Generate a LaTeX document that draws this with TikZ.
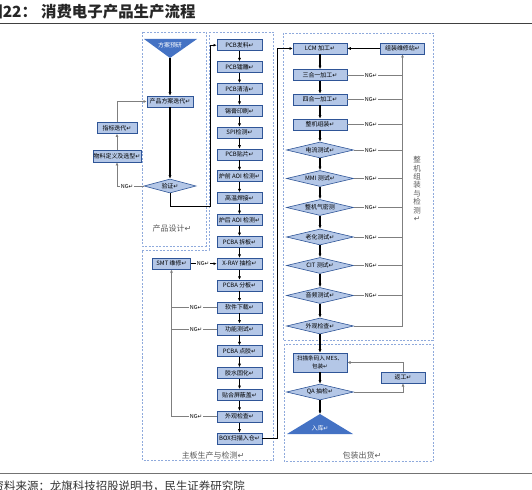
\documentclass[tikz,border=0pt]{standalone}
\usepackage{fontspec}
\setmainfont{Noto Sans CJK SC}
\newfontfamily\symfont{DejaVu Sans}
\usetikzlibrary{arrows.meta,shapes.geometric}
\definecolor{boxfill}{HTML}{B4C7E7}
\definecolor{boxline}{HTML}{2F5597}
\definecolor{trifill}{HTML}{4472C4}
\definecolor{frameblue}{HTML}{8FAADC}
\definecolor{nggray}{HTML}{7F7F7F}
\definecolor{labgray}{HTML}{595959}
\newcommand\retmark{{\symfont\char"21B5}}
\begin{document}
\begin{tikzpicture}[x=1bp,y=-1bp,
  box/.style={draw=boxline, fill=boxfill, line width=0.6bp, minimum width=45bp, minimum height=11bp, inner sep=0pt, font=\fontsize{6}{7}\selectfont},
  dbox/.style={diamond, aspect=4, draw=boxline, fill=boxfill, line width=0.6bp, minimum width=67bp, minimum height=16bp, inner sep=0pt, font=\fontsize{6}{7}\selectfont},
  ng/.style={fill=white, inner sep=0.7bp, font=\fontsize{5.5}{6}\selectfont},
  flowarr/.style={line width=1.3bp, -{Latex[length=3.5bp,width=3.2bp]}},
  thinarr/.style={line width=0.9bp, -{Latex[length=3.2bp,width=3bp]}},
  ngline/.style={draw=nggray, line width=0.9bp},
  ngarr/.style={ngline, -{Latex[length=3.2bp,width=3bp]}},
  framebox/.style={draw=frameblue, line width=0.8bp, dash pattern=on 2bp off 1.5bp},
  lab/.style={text=labgray, font=\fontsize{8}{8.4}\selectfont, inner sep=0pt}]
\path[use as bounding box, fill=white] (0,0) rectangle (532,490);

% title and source
\node[anchor=base west, font=\bfseries\fontsize{15.5}{16}\selectfont, text=black!85, inner sep=0pt] (tt) at (-12.8,18) {图22：\kern4bp 消费电子产品生产流程};
\draw[line width=1.3bp, black!75] (0,23.5) -- (532,23.5);
\draw[line width=0.9bp, black!55] (0,473.5) -- (532,473.5);
\node[anchor=base west, font=\fontsize{11.5}{12}\selectfont, text=black!80, inner sep=0pt] (src) at (-7.5,490.5) {资料来源：龙旗科技招股说明书，民生证券研究院};

% frames
\draw[framebox] (142,32) rectangle (206,246);
\draw[framebox] (209,32) -- (273,32) -- (273,460) -- (142,460) -- (142,250) -- (209,250) -- cycle;
\draw[framebox] (283,33) rectangle (433,340);
\draw[framebox] (284,344) rectangle (433,461);
\node[lab] (t1) at (172,228) {产品设计\retmark};
\node[lab] (t2) at (213,455) {主板生产与检测\retmark};
\node[lab] (t3) at (362,455) {包装出货\retmark};
\node[lab, align=center, font=\fontsize{7.5}{8.4}\selectfont] (t4) at (417,189) {整\\机\\组\\装\\与\\检\\测\\\retmark};

% product design
\fill[trifill] (144,39) -- (197,39) -- (170,58) -- cycle;
\node[text=white, font=\fontsize{6}{7}\selectfont] (fa) at (170,45) {方案预研};
\coordinate (fatip) at (170,58);
\node[box, minimum width=46bp] (fd) at (170,101.5) {产品方案迭代\retmark};
\node[dbox, minimum width=52bp, minimum height=14bp] (yz) at (170,186) {验证\retmark};
\node[box, minimum width=40bp] (zb) at (117,128) {指标迭代\retmark};
\node[box, minimum width=48bp, minimum height=12bp] (wl) at (117,156) {物料定义及选型\retmark};
\node[ng] (m4) at (127,186) {NG\retmark};
\coordinate (c1) at (210,206);

% main board
\node[box] (p0) at (239.5,45.2) {PCB发料\retmark};
\node[box] (p1) at (239.5,67.1) {PCB镭雕\retmark};
\node[box] (p2) at (239.5,88.9) {PCB清洁\retmark};
\node[box] (p3) at (239.5,110.8) {锡膏印刷\retmark};
\node[box] (p4) at (239.5,132.6) {SPI检测\retmark};
\node[box] (p5) at (239.5,154.5) {PCB贴片\retmark};
\node[box] (p6) at (239.5,176.3) {炉前 AOI 检测\retmark};
\node[box] (p7) at (239.5,198.2) {高温焊接\retmark};
\node[box] (p8) at (239.5,220.0) {炉后 AOI 检测\retmark};
\node[box] (p9) at (239.5,241.9) {PCBA 拆板\retmark};
\node[box] (p10) at (239.5,263.7) {X-RAY 抽检\retmark};
\node[box] (p11) at (239.5,285.6) {PCBA 分板\retmark};
\node[box] (p12) at (239.5,307.4) {软件下载\retmark};
\node[box] (p13) at (239.5,329.3) {功能测试\retmark};
\node[box] (p14) at (239.5,351.1) {PCBA 点胶\retmark};
\node[box] (p15) at (239.5,373.0) {胶水固化\retmark};
\node[box] (p16) at (239.5,394.8) {贴合屏蔽盖\retmark};
\node[box] (p17) at (239.5,416.7) {外观检查\retmark};
\node[box] (p18) at (239.5,438.5) {BOX扫描入仓\retmark};
\node[box, minimum width=38bp] (sm) at (171.5,263.7) {SMT 维修\retmark};
\node[ng] (m0) at (203,263.7) {NG\retmark};
\node[ng] (m1) at (196,307.4) {NG\retmark};
\node[ng] (m2) at (196,329.3) {NG\retmark};
\node[ng] (m3) at (196,416.7) {NG\retmark};
\coordinate (c2) at (277.5,438.5);

% assembly and test
\node[box, minimum width=54bp] (r0) at (320,48.5) {LCM 加工\retmark};
\node[box, minimum width=44bp] (rw) at (402.5,48.5) {组装维修站\retmark};
\node[box, minimum width=54bp] (r1) at (320,75) {三合一加工\retmark};
\node[box, minimum width=54bp] (r2) at (320,99.5) {四合一加工\retmark};
\node[box, minimum width=54bp] (r3) at (320,124.5) {整机组装\retmark};
\node[dbox] (d0) at (320,150) {电流测试\retmark};
\node[dbox] (d1) at (320,178.5) {MMI 测试\retmark};
\node[dbox] (d2) at (320,207.5) {整机气密测};
\node[dbox] (d3) at (320,237) {老化测试\retmark};
\node[dbox] (d4) at (320,265.5) {CIT 测试\retmark};
\node[dbox] (d5) at (320,295.5) {音频测试\retmark};
\node[dbox] (d6) at (320,326) {外观检查\retmark};
\node[ng] (n1) at (371,75) {NG\retmark};
\node[ng] (n2) at (371,99.5) {NG\retmark};
\node[ng] (n3) at (371,124.5) {NG\retmark};
\node[ng] (n4) at (371,150) {NG\retmark};
\node[ng] (n5) at (371,178.5) {NG\retmark};
\node[ng] (n6) at (371,207.5) {NG\retmark};
\node[ng] (n7) at (371,237) {NG\retmark};
\node[ng] (n8) at (371,265.5) {NG\retmark};
\node[ng] (n9) at (371,295.5) {NG\retmark};

% packing
\node[box, minimum width=54bp, minimum height=19bp, align=center, font=\fontsize{5.6}{7.5}\selectfont] (s0) at (320,362.5) {扫描条码入 MES、\\包装\retmark};
\node[dbox] (qa) at (320,392) {QA 抽检\retmark};
\node[box, minimum width=44bp] (fg) at (403,377.5) {返工\retmark};
\fill[trifill] (287,434) -- (353,434) -- (320,414) -- cycle;
\node[text=white, font=\fontsize{6}{7}\selectfont] (rk) at (320,428) {入库\retmark};
\coordinate (rktip) at (320,414);

% connectors: product design
\draw[flowarr](fatip) -- (fd);
\draw[flowarr](fd) -- (yz);
\draw[ngline](yz) -- (m4);
\draw[ngarr](m4) -| (wl.south);
\draw[ngarr](wl) -- (zb);
\draw[ngarr](zb.north) |- (fd.west);
\draw[thinarr](yz.south) |- (c1) |- (p0.west);

% connectors: main board
\draw[flowarr](p0) -- (p1);
\draw[flowarr](p1) -- (p2);
\draw[flowarr](p2) -- (p3);
\draw[flowarr](p3) -- (p4);
\draw[flowarr](p4) -- (p5);
\draw[flowarr](p5) -- (p6);
\draw[flowarr](p6) -- (p7);
\draw[flowarr](p7) -- (p8);
\draw[flowarr](p8) -- (p9);
\draw[flowarr](p9) -- (p10);
\draw[flowarr](p10) -- (p11);
\draw[flowarr](p11) -- (p12);
\draw[flowarr](p12) -- (p13);
\draw[flowarr](p13) -- (p14);
\draw[flowarr](p14) -- (p15);
\draw[flowarr](p15) -- (p16);
\draw[flowarr](p16) -- (p17);
\draw[flowarr](p17) -- (p18);
\draw[line width=1bp](sm) -- (m0);
\draw[thinarr](m0) -- (p10);
\draw[ngline](p12) -- (m1) -- (m1 -| sm);
\draw[ngline](p13) -- (m2) -- (m2 -| sm);
\draw[ngline](p17) -- (m3);
\draw[ngarr](m3) -| (sm.south);
\draw[thinarr](p18) -- (c2) |- (r0);

% connectors: assembly and test
\draw[line width=1.3bp, -{Latex[length=3.5bp,width=3.2bp]}](rw) -- (r0);
\draw[flowarr](r0) -- (r1);
\draw[flowarr](r1) -- (r2);
\draw[flowarr](r2) -- (r3);
\draw[flowarr](r3) -- (d0);
\draw[flowarr](d0) -- (d1);
\draw[flowarr](d1) -- (d2);
\draw[flowarr](d2) -- (d3);
\draw[flowarr](d3) -- (d4);
\draw[flowarr](d4) -- (d5);
\draw[flowarr](d5) -- (d6);
\draw[ngline](r1) -- (n1) -- (n1 -| rw);
\draw[ngline](r2) -- (n2) -- (n2 -| rw);
\draw[ngline](r3) -- (n3) -- (n3 -| rw);
\draw[ngline](d0) -- (n4) -- (n4 -| rw);
\draw[ngline](d1) -- (n5) -- (n5 -| rw);
\draw[ngline](d2) -- (n6) -- (n6 -| rw);
\draw[ngline](d3) -- (n7) -- (n7 -| rw);
\draw[ngline](d4) -- (n8) -- (n8 -| rw);
\draw[ngline](d5) -- (n9) -- (n9 -| rw);
\draw[ngarr](d6) -| (rw.south);

% connectors: packing
\draw[flowarr](d6) -- (s0);
\draw[flowarr](s0) -- (qa);
\draw[flowarr](qa) -- (rktip);
\draw[ngarr](qa) -| (fg.south);
\draw[ngarr](fg.north) |- (s0.east);
\end{tikzpicture}
\end{document}
